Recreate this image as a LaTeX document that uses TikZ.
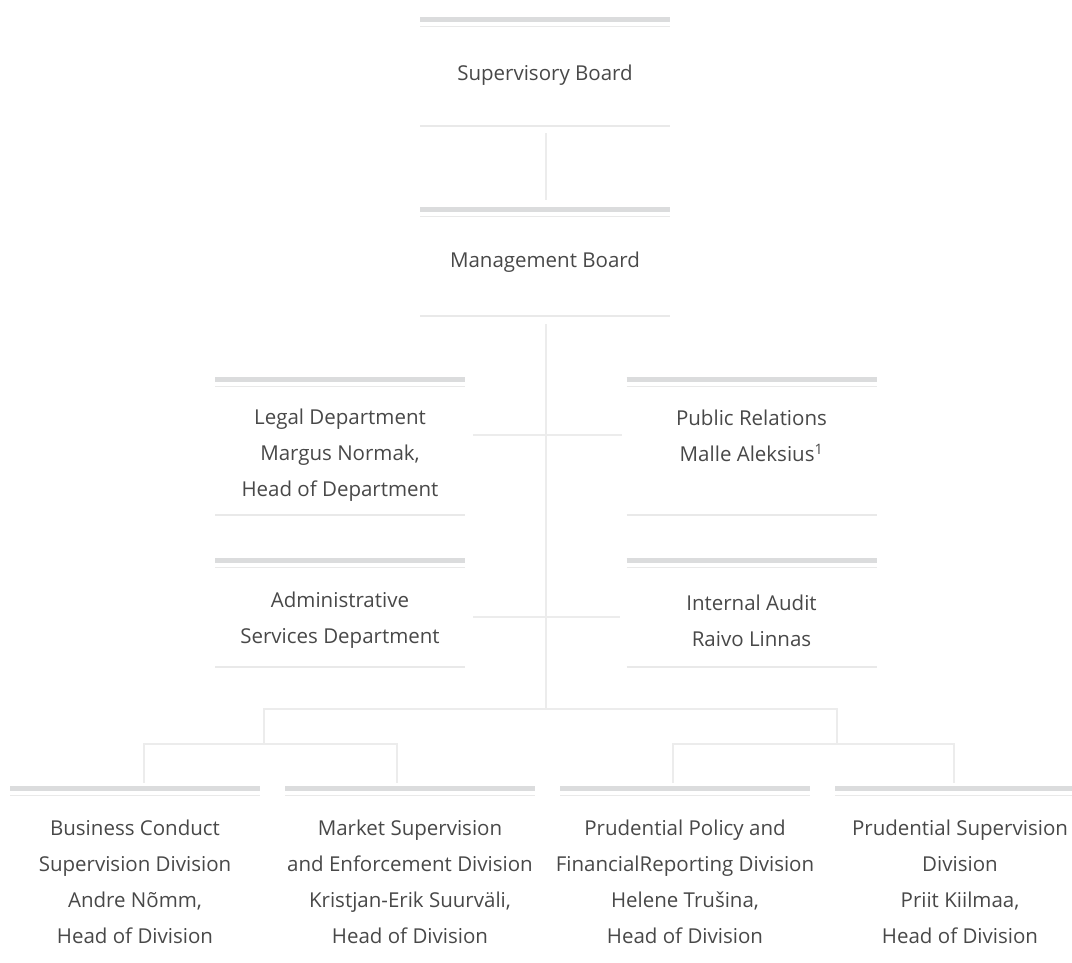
\documentclass[tikz,border=0pt]{standalone}
\usepackage{fontspec}
\setmainfont{Open Sans}
\usetikzlibrary{calc}
\definecolor{barc}{RGB}{219,220,221}
\definecolor{linec}{RGB}{233,233,233}
\definecolor{connc}{RGB}{236,236,236}
\definecolor{txtc}{RGB}{72,72,72}
\newcommand\boxtop[1]{%
  \draw[bar] ([yshift=-2.5pt]#1.north west) -- ([yshift=-2.5pt]#1.north east);
  \draw[thinline] ([yshift=-9.5pt]#1.north west) -- ([yshift=-9.5pt]#1.north east);}
\newcommand\boxfoot[1]{%
  \draw[thinline] (#1.south west) -- (#1.south east);}
\begin{document}
\begin{tikzpicture}[x=1pt,y=1pt,
  boxarea/.style={draw=none, inner sep=0pt, outer sep=0pt, minimum width=250pt, anchor=north},
  txt/.style={text=txtc, font=\fontsize{20.5}{36}\selectfont, align=center, inner sep=0pt},
  bar/.style={draw=barc, line width=5pt},
  thinline/.style={draw=linec, line width=1.5pt},
  conn/.style={draw=connc, line width=2pt, line join=miter}]
\useasboundingbox (0,0) rectangle (1072,-963);
% boxes
\node[boxarea, minimum height=109pt] (sb) at (545,-17) {};
\node[boxarea, minimum height=109pt] (mb) at (545,-207) {};
\node[boxarea, minimum height=138pt] (legal) at (340,-377) {};
\node[boxarea, minimum height=138pt] (pr) at (751.5,-377) {};
\node[boxarea, minimum height=109pt] (admin) at (340,-558) {};
\node[boxarea, minimum height=109pt] (audit) at (751.5,-558) {};
\node[boxarea, minimum height=177pt] (b1) at (135,-786) {};
\node[boxarea, minimum height=177pt] (b2) at (410,-786) {};
\node[boxarea, minimum height=177pt] (b3) at (685,-786) {};
\node[boxarea, minimum height=177pt] (b4) at (960,-786) {};
\foreach \b in {sb,mb,legal,pr,admin,audit,b1,b2,b3,b4} {\boxtop{\b}}
\foreach \b in {sb,mb,legal,pr,admin,audit} {\boxfoot{\b}}
% texts
\node[txt] (sbt) at (545,-75) {Supervisory Board};
\node[txt] (mbt) at (545,-262) {Management Board};
\node[txt] (legalt) at (340,-455) {Legal Department\\Margus Normak,\\Head of Department};
\node[txt] (prt) at (751.5,-436) {Public Relations\\Malle Aleksius\textsuperscript{1}};
\node[txt] (admint) at (340,-620.5) {Administrative\\Services Department};
\node[txt] (auditt) at (751.5,-620.5) {Internal Audit\\Raivo Linnas};
\node[txt] (b1t) at (135,-881.5) {Business Conduct\\Supervision Division\\Andre Nõmm,\\Head of Division};
\node[txt] (b2t) at (410,-881.5) {Market Supervision\\and Enforcement Division\\Kristjan-Erik Suurväli,\\Head of Division};
\node[txt] (b3t) at (685,-881.5) {Prudential Policy and\\FinancialReporting Division\\Helene Trušina,\\Head of Division};
\node[txt] (b4t) at (960,-881.5) {Prudential Supervision\\Division\\Priit Kiilmaa,\\Head of Division};
% connectors
\coordinate (j0) at (546,-709);
\coordinate (jl) at (264,-709);
\coordinate (jr) at (837,-709);
\coordinate (jl2) at (264,-744);
\coordinate (jr2) at (837,-744);
\draw[conn] ([xshift=1pt,yshift=-7pt]sb.south) -- ([xshift=1pt,yshift=7pt]mb.north);
\draw[conn] ([xshift=1pt,yshift=-8pt]mb.south) -- (j0);
\draw[conn] ($(legal.east)+(8,11)$) -- ($(pr.west)+(-5,11)$);
\draw[conn] ($(admin.east)+(8,-4.5)$) -- ($(audit.west)+(-7,-4.5)$);
\draw[conn] (jl2) -- (jl) -- (jr) -- (jr2);
\draw[conn] ([xshift=9pt,yshift=3pt]b1.north) |- (jl2) -| ([xshift=-13pt,yshift=3pt]b2.north);
\draw[conn] ([xshift=-12pt,yshift=3pt]b3.north) |- (jr2) -| ([xshift=-6pt,yshift=3pt]b4.north);
\end{tikzpicture}
\end{document}
